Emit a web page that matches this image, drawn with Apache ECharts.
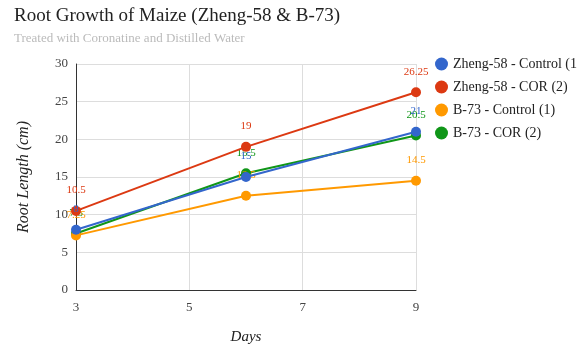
<!DOCTYPE html>
<html>
<head>
<meta charset="utf-8">
<script src="https://cdn.jsdelivr.net/npm/echarts@6/dist/echarts.min.js"></script>
<style>
    html, body { margin: 0; padding: 0; background: #fff; }
    #chart { width: 577px; height: 345px; }
</style>
</head>
<body>
<div id="chart"></div>
<script>
    // days measured
    var days = [3, 6, 9]
    // root length (cm) per series
    var zhengControl = [8, 15, 21]
    var zhengCor = [10.5, 19, 26.25]
    var b73Control = [7.25, 12.5, 14.5]
    var b73Cor = [7.5, 15.5, 20.5]

    var seriesNames = ['Zheng-58 - Control (1)', 'Zheng-58 - COR (2)', 'B-73 - Control (1)', 'B-73 - COR (2)']
    var seriesColors = ['#3366cc', '#dc3912', '#ff9900', '#109618']
    var seriesValues = [zhengControl, zhengCor, b73Control, b73Cor]

    var serif = 'Liberation Serif'

    var chart = echarts.init(document.getElementById('chart'))

    var series = []
    seriesValues.forEach(function (vals, i) {
        series.push({
            name: seriesNames[i],
            type: 'line',
            data: vals.map(function (v, k) { return [days[k], v] }),
            symbol: 'circle',
            symbolSize: 10,
            lineStyle: {width: 2, color: seriesColors[i]},
            itemStyle: {color: seriesColors[i]},
            label: {
                show: true, position: 'top', distance: 10,
                color: seriesColors[i], fontFamily: serif, fontSize: 11
            },
            z: 10 - i
        })
    })

    var option = {
        animation: false,
        title: {
            text: 'Root Growth of Maize (Zheng-58 & B-73)',
            subtext: 'Treated with Coronatine and Distilled Water',
            left: 9, top: 2, itemGap: 6,
            textStyle: {fontFamily: serif, fontSize: 19, fontWeight: 'normal', color: '#222'},
            subtextStyle: {fontFamily: serif, fontSize: 13, color: '#bbb'}
        },
        legend: {
            orient: 'vertical', left: 430, top: 52,
            icon: 'circle', itemWidth: 13, itemHeight: 13, itemGap: 9,
            textStyle: {fontFamily: serif, fontSize: 14, color: '#222'},
            data: seriesNames
        },
        grid: {left: 76, right: 161, top: 64, bottom: 55, outerBoundsMode: 'none'},
        xAxis: {
            type: 'value', min: 3, max: 9, interval: 2,
            name: 'Days', nameLocation: 'middle', nameGap: 40,
            nameTextStyle: {fontFamily: serif, fontSize: 15, fontStyle: 'italic', color: '#222'},
            axisLine: {lineStyle: {color: '#333', width: 1}},
            axisTick: {show: false},
            axisLabel: {fontFamily: serif, fontSize: 13, color: '#444', margin: 11},
            splitLine: {show: true, lineStyle: {color: '#ddd'}}
        },
        yAxis: {
            type: 'value', min: 0, max: 30, interval: 5,
            name: 'Root Length (cm)', nameLocation: 'middle', nameGap: 44,
            nameTextStyle: {fontFamily: serif, fontSize: 16, fontStyle: 'italic', color: '#222'},
            axisLine: {show: true, lineStyle: {color: '#333', width: 1}},
            axisTick: {show: false},
            axisLabel: {fontFamily: serif, fontSize: 13, color: '#444', margin: 8},
            splitLine: {show: true, lineStyle: {color: '#ddd'}}
        },
        series: series
    }

    chart.setOption(option)
</script>
</body>
</html>
